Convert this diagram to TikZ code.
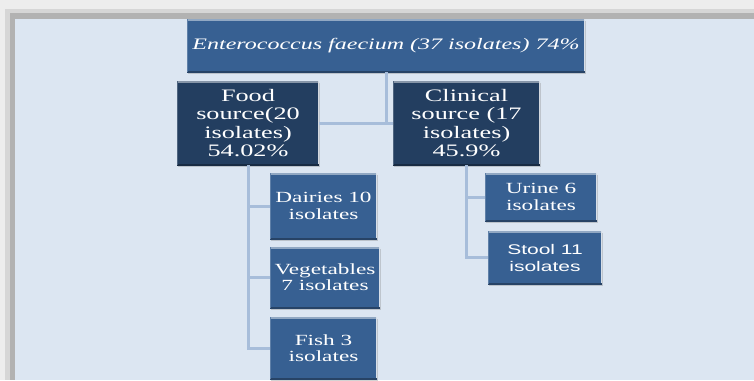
\documentclass[tikz,border=0pt]{standalone}
\usepackage{fontspec}
\setmainfont{Liberation Serif}
\newfontfamily\wserif[FakeStretch=1.5]{Liberation Serif}
\newfontfamily\wsans[FakeStretch=1.5]{Liberation Sans}
\usetikzlibrary{shadows}
\definecolor{panelcol}{HTML}{DCE6F2}
\definecolor{midblue}{HTML}{376092}
\definecolor{navy}{HTML}{233E60}
\definecolor{linkcol}{HTML}{A7BDDA}
\begin{document}
\begin{tikzpicture}[x=1pt,y=-1pt,
  box/.style={fill=#1, text=white, inner sep=0pt, align=center,
    drop shadow={shadow xshift=1pt,shadow yshift=-1.5pt,opacity=0.35},
    path picture={
      \draw[line width=3pt, #1!55!white] (path picture bounding box.north west) -- (path picture bounding box.north east);
      \draw[line width=2.5pt, #1!20!white] (path picture bounding box.north east) -- (path picture bounding box.south east);
      \draw[line width=2pt, #1!70!black] (path picture bounding box.south west) -- (path picture bounding box.south east);
      \draw[line width=1.5pt, #1!80!white] (path picture bounding box.north west) -- (path picture bounding box.south west);
    }},
  bigfont/.style={font=\wserif\fontsize{17.5}{18.5}\selectfont},
  smallfont/.style={font=\wserif\fontsize{15.5}{16.3}\selectfont},
  link/.style={draw=linkcol, line width=3pt}
]
\useasboundingbox (0,0) rectangle (754,380);
% frame
\fill[black!7] (0,0) rectangle (754,380);
\fill[black!16] (5,9) rectangle (754,380);
\fill[black!30] (10,13) rectangle (754,380);
\fill[panelcol] (15,19) rectangle (754,380);

% nodes
\node[box=midblue, minimum width=398, minimum height=53,
      font=\wserif\itshape\fontsize{16}{18}\selectfont] (top) at (386,45.5)
      {Enterococcus faecium (37 isolates) 74\%};
\node[box=navy, bigfont, minimum width=142, minimum height=84] (food) at (248,123)
      {Food\\source(20\\isolates)\\54.02\%};
\node[box=navy, bigfont, minimum width=147, minimum height=84] (clin) at (466.5,123)
      {Clinical\\source (17\\isolates)\\45.9\%};
\node[box=midblue, smallfont, minimum width=107, minimum height=66] (dairy) at (323.5,206)
      {Dairies 10\\isolates};
\node[box=midblue, smallfont, minimum width=110, minimum height=61] (veg) at (325,277.5)
      {Vegetables\\7 isolates};
\node[box=midblue, smallfont, minimum width=107, minimum height=62] (fish) at (323.5,348)
      {Fish 3\\isolates};
\node[box=midblue, smallfont, minimum width=112, minimum height=48] (urine) at (541,197)
      {Urine 6\\isolates};
\node[box=midblue, font=\wsans\fontsize{14}{17}\selectfont, minimum width=114, minimum height=53] (stool) at (545,257.5)
      {Stool 11\\isolates};

% connectors
\draw[link] (top.south) -- (top.south |- food.east);
\draw[link] (food.east) -- (clin.west);
\draw[link] (food.south) |- (dairy.west);
\draw[link] (food.south) |- (veg.west);
\draw[link] (food.south) |- (fish.west);
\draw[link] (clin.south) |- (urine.west);
\draw[link] (clin.south) |- (stool.west);
\end{tikzpicture}
\end{document}
